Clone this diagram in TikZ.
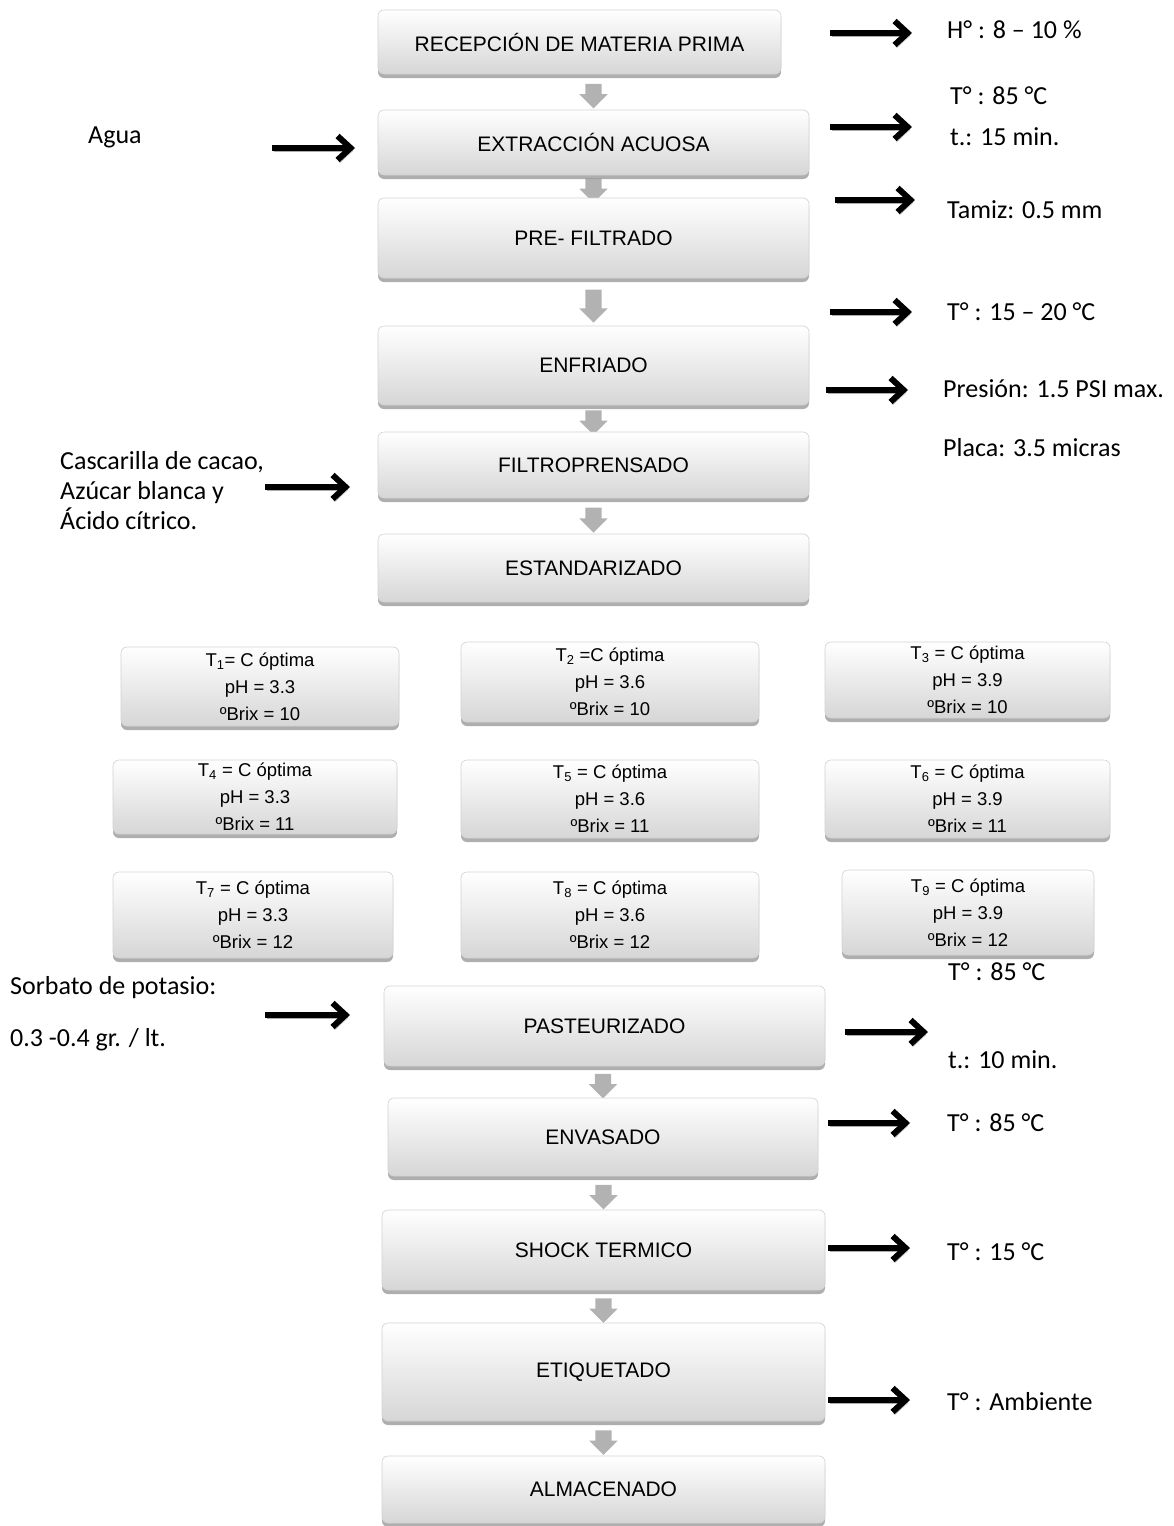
\documentclass[tikz,border=0pt]{standalone}
\usepackage{fontspec}
\setmainfont{Carlito}
\newfontfamily\arial{Liberation Sans}
\usepackage{tikz}
\usetikzlibrary{arrows.meta,shapes.arrows,shadows}
\pgfdeclarelayer{background}
\pgfsetlayers{background,main}
\definecolor{caja}{HTML}{D6D6D6}
\definecolor{sombra}{HTML}{8C8C8C}

\begin{document}
\begin{tikzpicture}[x=1pt, y=-1pt,
  paso/.style={rectangle, rounded corners=6pt, draw=gray!35, line width=0.6pt,
    top color=white, bottom color=caja, align=center,
    font=\arial\fontsize{21}{24}\selectfont,
    drop shadow={shadow xshift=0pt, shadow yshift=-4pt, fill=sombra, opacity=0.7}},
  trata/.style={paso, font=\arial\fontsize{18.5}{27}\selectfont, inner sep=2pt},
  bajada/.style={single arrow, rotate=-90, fill=gray!60, draw=none, inner sep=8pt,
    single arrow head extend=6pt, single arrow head indent=0pt},
  flechalado/.style={line width=6pt, -{Straight Barb[length=13pt, width=24pt]},
    preaction={draw=gray!65, transform canvas={shift={(2pt,-3pt)}}}},
  lado/.style={font=\fontsize{26}{30}\selectfont, anchor=west, inner sep=0pt, align=left}]
  \useasboundingbox (0,0) rectangle (1174,1526);

  % pasos principales
  \node[paso, minimum width=403, minimum height=64] (recep) at (579.5,42) {RECEPCIÓN DE MATERIA PRIMA};
  \node[paso, minimum width=431, minimum height=65] (extrac) at (593.5,142.5) {EXTRACCIÓN ACUOSA};
  \node[paso, minimum width=431, minimum height=80] (prefil) at (593.5,238) {PRE- FILTRADO};
  \node[paso, minimum width=431, minimum height=79] (enfri) at (593.5,365.5) {ENFRIADO};
  \node[paso, minimum width=431, minimum height=66] (filtro) at (593.5,465) {FILTROPRENSADO};
  \node[paso, minimum width=431, minimum height=68] (estand) at (593.5,568) {ESTANDARIZADO};

  % tratamientos
  \node[trata, minimum width=278, minimum height=79] (t1) at (260,686.5) {T\textsubscript{1}= C óptima\\pH = 3.3\\ºBrix = 10};
  \node[trata, minimum width=298, minimum height=80] (t2) at (610,682) {T\textsubscript{2} =C óptima\\pH = 3.6\\ºBrix = 10};
  \node[trata, minimum width=285, minimum height=76] (t3) at (967.5,680) {T\textsubscript{3} = C óptima\\pH = 3.9\\ºBrix = 10};
  \node[trata, minimum width=284, minimum height=74] (t4) at (255,797) {T\textsubscript{4} = C óptima\\pH = 3.3\\ºBrix = 11};
  \node[trata, minimum width=298, minimum height=78] (t5) at (610,799) {T\textsubscript{5} = C óptima\\pH = 3.6\\ºBrix = 11};
  \node[trata, minimum width=285, minimum height=78] (t6) at (967.5,799) {T\textsubscript{6} = C óptima\\pH = 3.9\\ºBrix = 11};
  \node[trata, minimum width=280, minimum height=86] (t7) at (253,915) {T\textsubscript{7} = C óptima\\pH = 3.3\\ºBrix = 12};
  \node[trata, minimum width=298, minimum height=86] (t8) at (610,915) {T\textsubscript{8} = C óptima\\pH = 3.6\\ºBrix = 12};
  \node[trata, minimum width=252, minimum height=85] (t9) at (968,912.5) {T\textsubscript{9} = C óptima\\pH = 3.9\\ºBrix = 12};

  \node[paso, minimum width=441, minimum height=80] (paste) at (604.5,1026) {PASTEURIZADO};
  \node[paso, minimum width=430, minimum height=78] (envas) at (603,1137) {ENVASADO};
  \node[paso, minimum width=443, minimum height=80] (shock) at (603.5,1250) {SHOCK TERMICO};
  \node[paso, minimum width=443, minimum height=98] (etiq) at (603.5,1372) {ETIQUETADO};
  \node[paso, minimum width=443, minimum height=67] (almac) at (603.5,1489.5) {ALMACENADO};

  % flechas grises entre pasos
  \begin{pgfonlayer}{background}
    \foreach \a/\b/\l in {recep/extrac/23, extrac/prefil/22, prefil/enfri/33, enfri/filtro/21,
        filtro/estand/25, paste/envas/22, envas/shock/23, shock/etiq/21, etiq/almac/22}
      \path (\a.south -| \b.north) -- (\b.north) node[midway, bajada, minimum height=\l] {};
  \end{pgfonlayer}

  % condiciones
  \node[lado] (hum) at (947,30) {H° : 8 – 10 \%};
  \node[lado] (temp1) at (950,96) {T° : 85 °C};
  \node[lado] (tiempo1) at (950,137) {t.: 15 min.};
  \node[lado] (tamiz) at (947,210) {Tamiz: 0.5 mm};
  \node[lado] (temp2) at (947,312) {T° : 15 – 20 °C};
  \node[lado] (presion) at (943,389) {Presión: 1.5 PSI max.};
  \node[lado] (placa) at (943,448) {Placa: 3.5 micras};
  \node[lado] (temp3) at (948,972) {T° : 85 °C};
  \node[lado] (tiempo2) at (948,1060) {t.: 10 min.};
  \node[lado] (temp4) at (947,1123) {T° : 85 °C};
  \node[lado] (temp5) at (947,1252) {T° : 15 °C};
  \node[lado] (temp6) at (947,1402) {T° : Ambiente};

  % insumos
  \node[lado] (agua) at (88,137) {Agua};
  \node[lado] (insumos) at (60,491) {Cascarilla de cacao,\\Azúcar blanca y\\Ácido cítrico.};
  \node[lado] (sorbato) at (10,988) {Sorbato de potasio:};
  \node[lado] (dosis) at (10,1040) {0.3 -0.4 gr. / lt.};

  \foreach \xa/\xb/\y [count=\i] in {830/912/33, 830/912/127, 835/915/200, 830/912/312,
      826/908/390, 845/928/1032, 828/910/1123, 828/910/1248, 828/910/1400,
      272/355/148, 265/350/487, 265/350/1015} {
    \coordinate (fa\i) at (\xa,\y);
    \coordinate (fb\i) at (\xb,\y);
    \draw[flechalado] (fa\i) -- (fb\i);
  }
\end{tikzpicture}
\end{document}
